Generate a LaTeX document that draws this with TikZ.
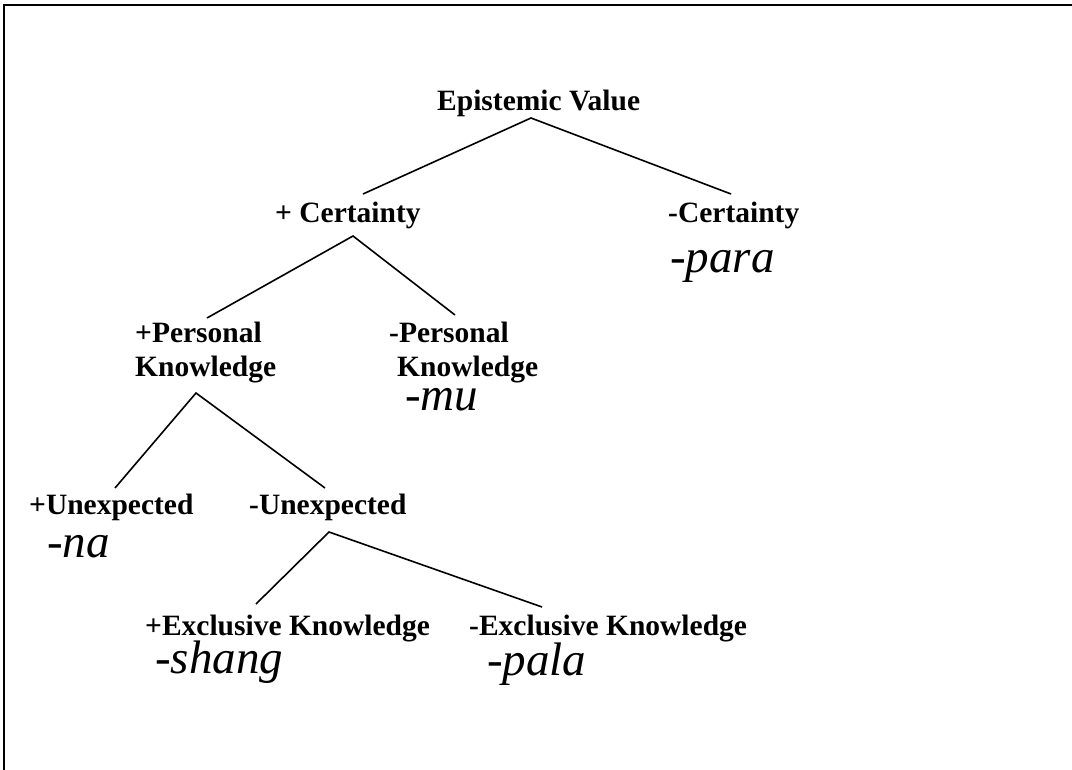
\documentclass[tikz,border=0pt]{standalone}
\usepackage{fontspec}
\setmainfont{Liberation Serif}
\newcommand{\lblfont}{\bfseries\fontsize{29.5}{34}\selectfont}
\newcommand{\morphfont}{\itshape\fontsize{47}{52}\selectfont}
\begin{document}
\begin{tikzpicture}[x=1pt,y=-1pt,
  lbl/.style={font=\lblfont, inner sep=0pt, anchor=base west},
  morph/.style={font=\morphfont, inner sep=0pt, anchor=base west},
  branch/.style={line width=1.6pt},
  frame/.style={line width=2.2pt}]
\useasboundingbox (0,0) rectangle (1072,770);
\fill[white] (0,0) rectangle (1072,770);
\draw[frame] (3.6,770) -- (3.6,5.2) -- (1072,5.2);

% nodes
\node[lbl] (ev) at (437,111) {Epistemic Value};
\node[lbl] (pc) at (275,223) {+ Certainty};
\node[lbl] (mc) at (668,223) {-Certainty};
\node[morph] (para) at (670,273) {-para};
\node[lbl] (ppk1) at (135,343) {+Personal};
\node[lbl] (ppk2) at (135,377) {Knowledge};
\node[lbl] (mpk1) at (389,342) {-Personal};
\node[lbl] (mpk2) at (397,377) {Knowledge};
\node[morph] (mu) at (405,410) {-mu};
\node[lbl] (pu) at (29,514) {+Unexpected};
\node[morph] (na) at (47,557) {-na};
\node[lbl] (mun) at (249,514) {-Unexpected};
\node[lbl] (pek) at (145,635) {+Exclusive Knowledge};
\node[morph] (shang) at (155,673) {-shang};
\node[lbl] (mek) at (469,635) {-Exclusive Knowledge};
\node[morph] (pala) at (487,675) {-pala};

% connector end points
\coordinate (ev-s) at (531,118);
\coordinate (pc-n) at (363,194);
\coordinate (mc-n) at (731,194);
\coordinate (pc-s) at (353,236);
\coordinate (ppk-n) at (207,318);
\coordinate (mpk-n) at (455,315);
\coordinate (ppk-s) at (196,393);
\coordinate (pu-n) at (115,488);
\coordinate (mun-n) at (325,488);
\coordinate (mun-s) at (329,532);
\coordinate (pek-n) at (256,604);
\coordinate (mek-n) at (542,607);

\draw[branch] (pc-n) -- (ev-s) -- (mc-n);
\draw[branch] (ppk-n) -- (pc-s) -- (mpk-n);
\draw[branch] (pu-n) -- (ppk-s) -- (mun-n);
\draw[branch] (pek-n) -- (mun-s) -- (mek-n);
\end{tikzpicture}
\end{document}
